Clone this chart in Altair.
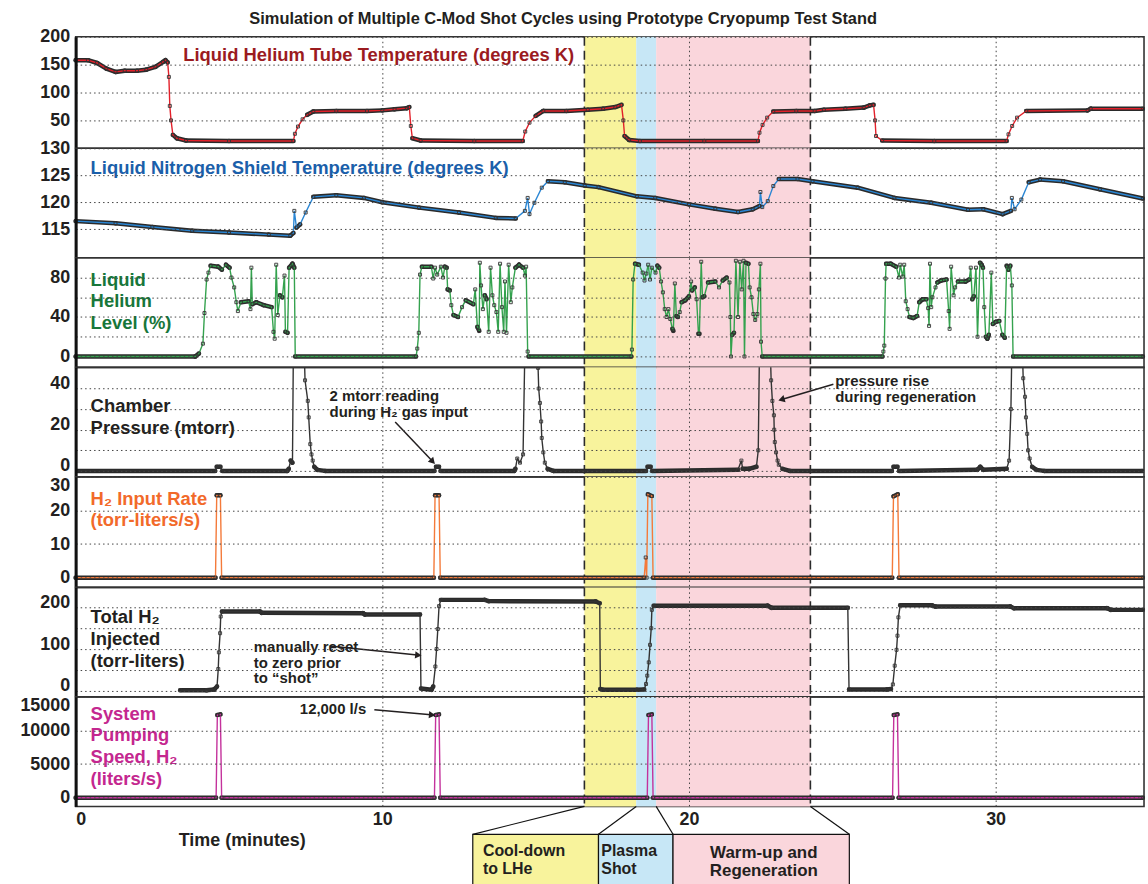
import math
import altair as alt
import pandas as pd

FONT = "Liberation Sans"
INK = "#231f20"
X_MAX = 34.84
W = 1073

# ---------------- data (time in minutes, value) ----------------
he_temp = [(0, 158), (0.4, 158), (0.7, 153), (1.0, 143), (1.3, 137), (1.6, 139), (2.0, 139), (2.3, 141),
           (2.6, 146), (2.85, 155), (2.93, 158), (3.0, 154), (3.04, 128), (3.07, 76), (3.11, 50), (3.17, 24),
           (3.3, 18), (3.6, 14), (5.0, 13), (7.1, 13), (7.15, 26), (7.25, 39), (7.4, 52), (7.55, 60), (7.75, 66),
           (8.5, 67), (9.5, 67), (10.0, 68), (10.4, 70), (10.8, 72), (10.88, 74), (10.93, 40), (10.98, 18),
           (11.25, 14), (13.0, 13), (14.58, 13), (14.66, 30), (14.8, 46), (15.0, 58), (15.25, 67), (16.0, 67),
           (16.7, 69), (17.2, 71), (17.6, 74), (17.8, 78), (17.86, 50), (17.9, 22), (18.05, 15), (18.4, 13),
           (20.5, 13), (22.25, 13), (22.3, 28), (22.4, 42), (22.55, 55), (22.75, 66), (23.5, 67), (24.1, 67),
           (24.4, 69), (25.1, 71), (25.7, 73), (25.9, 77), (26.02, 78), (26.07, 50), (26.1, 22), (26.3, 14),
           (28.0, 13), (30.36, 13), (30.42, 25), (30.54, 40), (30.7, 55), (31.0, 67), (33.0, 68), (33.1, 71),
           (34.8, 71)]

ln2_temp = [(0, 116.5), (1.3, 116.1), (2.5, 115.4), (3.8, 114.7), (5.0, 114.4), (6.3, 114.0), (7.0, 113.8),
            (7.1, 114.3), (7.13, 118.4), (7.2, 115.3), (7.32, 115.9), (7.5, 118.1), (7.75, 121.0), (8.5, 121.3),
            (9.4, 120.8), (10.0, 120.0), (11.2, 119.0), (12.5, 118.1), (13.7, 117.1), (14.35, 117.0),
            (14.65, 118.4), (14.74, 120.8), (14.8, 117.8), (14.96, 119.9), (15.2, 122.7), (15.4, 123.9),
            (15.95, 123.7), (16.6, 123.1), (17.05, 122.8), (18.3, 121.1), (18.9, 120.8), (20.0, 119.6),
            (20.86, 118.8), (21.6, 118.2), (22.08, 118.7), (22.3, 119.3), (22.33, 121.9), (22.39, 119.1),
            (22.57, 120.2), (22.75, 123.0), (22.93, 124.3), (23.54, 124.3), (24.03, 123.9), (25.5, 122.7),
            (26.7, 120.8), (27.9, 119.9), (29.1, 118.6), (29.6, 118.7), (30.23, 117.8), (30.5, 118.4),
            (30.53, 120.8), (30.62, 118.7), (30.84, 120.5), (31.08, 123.7), (31.45, 124.2), (32.2, 123.9),
            (33.4, 122.4), (34.8, 120.7)]

he_level = [(0, 0), (3.9, 0), (4.02, 3), (4.15, 13), (4.2, 44), (4.27, 78), (4.33, 85), (4.4, 92), (4.65, 91),
            (4.77, 88), (4.9, 93), (5.02, 90), (5.08, 80), (5.17, 70), (5.24, 55), (5.29, 46), (5.39, 55),
            (5.64, 56), (5.7, 48), (5.73, 90), (5.76, 53), (5.89, 55), (6.13, 52), (6.39, 50), (6.45, 25),
            (6.49, 18), (6.54, 93), (6.59, 42), (6.66, 62), (6.74, 60), (6.81, 82), (6.84, 25), (6.91, 24),
            (6.96, 90), (7.07, 94), (7.13, 90), (7.16, 0), (11.1, 0), (11.14, 8), (11.19, 24), (11.23, 83),
            (11.29, 91), (11.6, 91), (11.66, 79), (11.72, 90), (11.79, 83), (11.91, 91), (11.98, 80),
            (12.04, 91), (12.1, 90), (12.13, 68), (12.2, 67), (12.25, 52), (12.32, 42), (12.47, 40), (12.6, 50),
            (12.72, 57), (12.97, 53), (13.03, 68), (13.1, 30), (13.16, 26), (13.18, 95), (13.22, 72),
            (13.28, 48), (13.34, 62), (13.4, 58), (13.47, 25), (13.53, 90), (13.59, 62), (13.65, 52),
            (13.72, 45), (13.78, 25), (13.84, 94), (13.9, 50), (13.96, 25), (14.0, 76), (14.05, 24),
            (14.12, 93), (14.19, 55), (14.24, 70), (14.34, 90), (14.46, 93), (14.59, 90), (14.65, 82),
            (14.69, 91), (14.74, 5), (14.77, 0), (18.12, 0), (18.14, 7), (18.18, 78), (18.24, 94), (18.37, 93),
            (18.49, 85), (18.55, 77), (18.61, 84), (18.67, 93), (18.73, 78), (18.79, 90), (18.91, 85),
            (18.97, 92), (19.03, 90), (19.09, 76), (19.15, 65), (19.21, 48), (19.27, 40), (19.33, 48),
            (19.39, 38), (19.46, 28), (19.49, 26), (19.54, 74), (19.59, 41), (19.64, 40), (19.7, 45),
            (19.76, 55), (19.88, 57), (20.0, 61), (20.07, 76), (20.1, 67), (20.19, 70), (20.25, 58),
            (20.31, 23), (20.34, 23), (20.4, 96), (20.44, 60), (20.5, 61), (20.62, 75), (20.86, 76),
            (20.98, 70), (21.1, 77), (21.23, 80), (21.32, 75), (21.35, 40), (21.37, 0), (21.41, 22),
            (21.47, 24), (21.53, 97), (21.6, 40), (21.66, 96), (21.72, 68), (21.78, 97), (21.81, 0),
            (21.86, 95), (21.94, 94), (21.98, 70), (22.04, 60), (22.1, 43), (22.16, 37), (22.23, 43),
            (22.28, 68), (22.33, 94), (22.35, 15), (22.39, 0), (26.31, 0), (26.34, 5), (26.37, 11),
            (26.41, 79), (26.43, 94), (26.58, 94), (26.76, 91), (26.85, 80), (26.89, 93), (26.97, 81),
            (27.02, 93), (27.07, 56), (27.13, 48), (27.19, 40), (27.32, 39), (27.44, 41), (27.51, 55),
            (27.62, 58), (27.74, 58), (27.8, 49), (27.83, 31), (27.86, 94), (27.9, 50), (27.94, 60),
            (28.04, 70), (28.1, 75), (28.22, 77), (28.4, 78), (28.47, 46), (28.5, 28), (28.55, 91),
            (28.63, 62), (28.68, 70), (28.77, 76), (29.02, 76), (29.14, 78), (29.19, 90), (29.24, 58),
            (29.29, 61), (29.36, 90), (29.41, 20), (29.49, 95), (29.54, 93), (29.59, 90), (29.63, 50),
            (29.68, 20), (29.73, 18), (29.78, 22), (29.86, 85), (29.91, 33), (30.0, 35), (30.12, 36),
            (30.22, 22), (30.3, 19), (30.36, 92), (30.42, 88), (30.48, 92), (30.53, 72), (30.57, 0), (34.8, 0)]

pressure = [(0, 0), (4.55, 0), (4.6, 2), (4.72, 2), (4.78, 0), (6.9, 0), (6.95, 1), (7.01, 5), (7.07, 4),
            (7.1, 60), (7.45, 60), (7.48, 44), (7.57, 34), (7.6, 26), (7.65, 13), (7.69, 8), (7.73, 5),
            (7.78, 2), (7.88, 0.5), (8.13, 0), (11.7, 0), (11.75, 2), (11.85, 2), (11.9, 0), (14.3, 0),
            (14.34, 1), (14.4, 6), (14.49, 4), (14.59, 8), (14.65, 60), (15.05, 60), (15.08, 50), (15.1, 40),
            (15.14, 33), (15.18, 24), (15.2, 16), (15.25, 9), (15.3, 4), (15.39, 1), (15.58, 0), (18.6, 0),
            (18.65, 2), (18.75, 2), (18.8, 0), (21.6, 0.5), (21.71, 5), (21.75, 1), (21.96, 1), (22.2, 2),
            (22.26, 10), (22.3, 60), (22.65, 60), (22.68, 44), (22.72, 34), (22.77, 27), (22.78, 20),
            (22.8, 14), (22.84, 9), (22.89, 5), (22.93, 3), (23.05, 1), (23.29, 0), (26.62, 0), (26.67, 2),
            (26.8, 2), (26.85, 0), (29.4, 0.5), (29.5, 2), (29.6, 0.5), (30.36, 1), (30.44, 5), (30.5, 30),
            (30.53, 60), (30.87, 60), (30.9, 45), (30.96, 36), (30.99, 26), (31.03, 18), (31.06, 10),
            (31.11, 6), (31.19, 2), (31.33, 0.5), (31.58, 0), (34.8, 0)]

h2_rate = [(0, 0), (4.56, 0), (4.6, 24.5), (4.72, 24.5), (4.76, 0), (11.68, 0), (11.72, 24.5), (11.85, 24.5),
           (11.89, 0), (18.54, 0), (18.59, 6), (18.62, 0), (18.66, 24.8), (18.79, 24.3), (18.83, 0),
           (26.63, 0), (26.67, 24.2), (26.81, 24.8), (26.85, 0), (34.8, 0)]

h2_total = [(3.41, 1), (4.27, 1), (4.52, 3), (4.61, 10), (4.65, 52), (4.67, 92), (4.71, 138), (4.73, 178),
            (4.77, 190), (6.01, 190), (6.07, 187), (9.37, 186), (9.43, 183), (11.23, 183), (11.26, 5),
            (11.6, 2), (11.66, 10), (11.73, 58), (11.77, 100), (11.81, 148), (11.85, 203), (11.91, 218),
            (13.34, 218), (13.47, 215), (16.96, 214), (17.09, 210), (17.11, 4), (17.2, 2), (18.3, 2),
            (18.54, 3), (18.6, 16), (18.64, 36), (18.69, 68), (18.73, 110), (18.77, 150), (18.79, 194),
            (18.85, 204), (22.57, 204), (22.69, 199), (25.18, 199), (25.22, 3), (26.46, 3), (26.59, 4),
            (26.65, 15), (26.71, 60), (26.77, 98), (26.8, 132), (26.83, 176), (26.89, 205), (27.92, 205),
            (28.04, 202), (30.48, 202), (30.6, 198), (33.64, 198), (33.76, 194), (34.8, 194)]

pump_speed = [(0, 0), (4.58, 0), (4.62, 12300), (4.72, 12400), (4.76, 0), (11.7, 0), (11.74, 12300),
              (11.85, 12400), (11.89, 0), (18.64, 0), (18.68, 12300), (18.79, 12400), (18.83, 0), (26.64, 0),
              (26.68, 12300), (26.8, 12400), (26.84, 0), (34.8, 0)]

# shot-cycle phases (minutes)
phase_start = [16.59, 18.28, 18.93]
phase_end = [18.28, 18.93, 23.96]
phase_fill = ["#f8f39c", "#c7e7f6", "#fad6dc"]
phase_text = [["Cool-down", "to LHe"], ["Plasma", "Shot"], ["Warm-up and", "Regeneration"]]
dashed_at = [16.59, 23.96]
# callout boxes under the time axis (minutes / pumping-speed units of the bottom panel)
box_left = [12.95, 17.05, 19.48]
box_right = [17.05, 19.48, 25.23]
box_top, box_bottom = -5450, -13000
box_text_t = [13.28, 17.14, 22.44]
box_text_v = [-8650, -8650, -8950]
link_from = [16.59, 18.28, 18.93, 23.96]
link_to = [12.95, 17.05, 19.48, 25.23]

x_scale = alt.Scale(domain=[0, X_MAX], nice=False, zero=False)


def x_axis(bottom):
    if bottom:
        return alt.Axis(values=[0, 10, 20, 30], grid=True, gridColor="#444", gridDash=[1.5, 3], ticks=False,
                        domain=False, labelFont=FONT, labelFontSize=18, labelFontWeight="bold", labelColor=INK,
                        labelPadding=4, title="Time (minutes)", titleFont=FONT, titleFontSize=18,
                        titleFontWeight="bold", titleColor=INK, titleAnchor="start", titleAlign="left",
                        titleX=103, titleY=39, titleBaseline="alphabetic", zindex=1)
    return alt.Axis(values=[10, 20, 30], grid=True, gridColor="#444", gridDash=[1.5, 3], labels=False,
                    ticks=False, domain=False, title=None, zindex=1)


def y_axis(values, shown, flush=False, flush_off=0, offset=0):
    expr = "indexof([%s], datum.value) >= 0 ? datum.label : ''" % ",".join(str(v) for v in shown)
    return alt.Axis(values=values, labelExpr=expr, format="d", title=None, grid=True, gridColor="#444",
                    gridDash=[1.5, 3], ticks=False, domain=True, domainColor="#111", domainWidth=3,
                    labelFont=FONT, labelFontSize=18, labelFontWeight="bold", labelColor=INK, labelPadding=6,
                    minExtent=70, maxExtent=70, labelFlush=flush, labelFlushOffset=flush_off,
                    labelOffset=offset, zindex=1)


def panel(series, color, domain, height, yvals, shown, label, label_color, label_x, label_y,
          line_h=21.5, clip=False, bottom=False, flush=False, flush_off=0, lab_off=0,
          annotations=(), arrows=(), extra=()):
    xa = x_axis(bottom)
    ys = alt.Scale(domain=domain, nice=False, zero=False)
    ya = y_axis(yvals, shown, flush, flush_off, lab_off)
    df = pd.DataFrame(series, columns=["t", "v"])
    span = domain[1] - domain[0]
    segs = []
    for (t0, v0), (t1, v1) in zip(series[:-1], series[1:]):
        dxp = (t1 - t0) / X_MAX * W
        dyp = abs(v1 - v0) / span * height
        if dyp <= 4 or dyp <= 0.7 * dxp:
            segs.append({"t0": t0, "v0": v0, "t1": t1, "v1": v1})
    seg_df = pd.DataFrame(segs)
    ph = pd.DataFrame({"start": phase_start, "end": phase_end, "fill": phase_fill})
    layers = [
        alt.Chart(ph).mark_rect().encode(
            x=alt.X("start:Q", scale=x_scale, axis=xa), x2="end:Q", color=alt.Color("fill:N", scale=None)),
        alt.Chart(pd.DataFrame({"t": dashed_at})).mark_rule(
            strokeDash=[9, 5], color="#2b2b2b", strokeWidth=1.6).encode(
            x=alt.X("t:Q", scale=x_scale, axis=xa)),
        alt.Chart(seg_df).mark_rule(color="#2a2a2a", strokeWidth=4.5, strokeCap="round", clip=clip).encode(
            x=alt.X("t0:Q", scale=x_scale, axis=xa), x2="t1:Q",
            y=alt.Y("v0:Q", scale=ys, axis=ya), y2="v1:Q"),
        alt.Chart(df).mark_line(color=color, strokeWidth=1.4, clip=clip).encode(
            x=alt.X("t:Q", scale=x_scale, axis=xa), y=alt.Y("v:Q", scale=ys, axis=ya)),
        alt.Chart(df).mark_point(shape="square", size=9, filled=False, color="#333", strokeWidth=1,
                                 opacity=0.9, clip=clip).encode(
            x=alt.X("t:Q", scale=x_scale, axis=xa), y=alt.Y("v:Q", scale=ys, axis=ya)),
        alt.Chart(pd.DataFrame({"k": [0]})).mark_text(
            text=label, align="left", baseline="alphabetic", font=FONT, fontSize=18.5, fontWeight="bold",
            color=label_color, lineHeight=line_h).encode(x=alt.value(label_x), y=alt.value(label_y)),
    ]
    for (t, v, lines) in annotations:
        layers.append(alt.Chart(pd.DataFrame({"t": [t], "v": [v]})).mark_text(
            text=lines, align="left", baseline="alphabetic", font=FONT, fontSize=15, fontWeight="bold",
            color=INK, lineHeight=15.5).encode(
            x=alt.X("t:Q", scale=x_scale, axis=xa), y=alt.Y("v:Q", scale=ys, axis=ya)))
    for (t0, v0, t1, v1) in arrows:
        dx = (t1 - t0) / X_MAX * W
        dy = -(v1 - v0) / span * height
        ang = math.degrees(math.atan2(dx, -dy)) % 360
        layers.append(alt.Chart(pd.DataFrame({"t0": [t0], "v0": [v0], "t1": [t1], "v1": [v1]})).mark_rule(
            color=INK, strokeWidth=1.5).encode(
            x=alt.X("t0:Q", scale=x_scale, axis=xa), x2="t1:Q",
            y=alt.Y("v0:Q", scale=ys, axis=ya), y2="v1:Q"))
        layers.append(alt.Chart(pd.DataFrame({"t": [t1], "v": [v1], "a": [ang]})).mark_point(
            shape="triangle", filled=True, size=55, color=INK, opacity=1).encode(
            x=alt.X("t:Q", scale=x_scale, axis=xa), y=alt.Y("v:Q", scale=ys, axis=ya),
            angle=alt.Angle("a:Q", scale=None)))
    for mk in extra:
        layers.append(mk(xa, ys, ya))
    return alt.layer(*layers).properties(width=W, height=height)


def callouts(xa, ys, ya):
    boxes = pd.DataFrame({"l": box_left, "r": box_right, "top": [box_top] * 3, "bot": [box_bottom] * 3,
                          "fill": phase_fill})
    links = pd.DataFrame({"t0": link_from, "t1": link_to, "v0": [-1300] * 4, "v1": [box_top] * 4})
    texts = pd.DataFrame({"t": box_text_t, "v": box_text_v, "al": ["left", "left", "center"]})
    rect = alt.Chart(boxes).mark_rect(stroke="#111", strokeWidth=1.2).encode(
        x=alt.X("l:Q", scale=x_scale, axis=xa), x2="r:Q", y=alt.Y("top:Q", scale=ys, axis=ya), y2="bot:Q",
        color=alt.Color("fill:N", scale=None))
    link = alt.Chart(links).mark_rule(color="#111", strokeWidth=1.2).encode(
        x=alt.X("t0:Q", scale=x_scale, axis=xa), x2="t1:Q", y=alt.Y("v0:Q", scale=ys, axis=ya), y2="v1:Q")
    tl = []
    for i in range(3):
        tl.append(alt.Chart(texts.iloc[[i]]).mark_text(
            text=phase_text[i], align=texts["al"][i], baseline="alphabetic", font=FONT,
            fontSize=16 if i < 2 else 17, fontWeight="bold", color=INK, lineHeight=18).encode(
            x=alt.X("t:Q", scale=x_scale, axis=xa), y=alt.Y("v:Q", scale=ys, axis=ya)))
    return alt.layer(link, rect, *tl)


p1 = panel(he_temp, "#e3202a", [0, 200], 112, [50, 100, 150, 200], [50, 100, 150, 200],
           "Liquid Helium Tube Temperature (degrees K)", "#9b1b1f", 108, 24)
p2 = panel(ln2_temp, "#2a86d4", [109.7, 130], 110, [115, 120, 125, 130], [115, 120, 125, 130],
           "Liquid Nitrogen Shield Temperature (degrees K)", "#1b5faa", 15, 26)
p3 = panel(he_level, "#34a24e", [-11, 100], 110, [0, 20, 40, 60, 80], [0, 40, 80],
           ["Liquid", "Helium", "Level (%)"], "#17773a", 15, 28, line_h=21.5)
p4 = panel(pressure, "#333333", [-2.9, 50.3], 110, [0, 10, 20, 30, 40], [0, 20, 40],
           ["Chamber", "Pressure (mtorr)"], INK, 15, 45, line_h=22, clip=True, lab_off=-5,
           annotations=[(8.28, 33.9, ["2 mtorr reading", "during H\u2082 gas input"]),
                        (24.77, 41.1, ["pressure rise", "during regeneration"])],
           arrows=[(10.42, 23.7, 11.62, 4.9), (24.71, 42.1, 23.05, 34.8)])
p5 = panel(h2_rate, "#f47a3a", [-2.9, 30], 111, [0, 10, 20, 30], [0, 10, 20, 30],
           ["H\u2082 Input Rate", "(torr-liters/s)"], "#f26a2a", 15, 28, line_h=21,
           flush=True, flush_off=0)
p6 = panel(h2_total, "#333333", [-15, 248], 110, [0, 50, 100, 150, 200], [0, 100, 200],
           ["Total H\u2082", "Injected", "(torr-liters)"], INK, 15, 36, line_h=22, lab_off=-5,
           annotations=[(5.81, 92.6, ["manually reset", "to zero prior", "to \u201cshot\u201d"])],
           arrows=[(8.28, 107, 11.14, 85.4)])
p7 = panel(pump_speed, "#c4329c", [-1300, 15000], 110, [0, 5000, 10000, 15000], [0, 5000, 10000, 15000],
           ["System", "Pumping", "Speed, H\u2082", "(liters/s)"], "#c4278f", 15, 23, line_h=21.7,
           bottom=True, flush=True, flush_off=0,
           annotations=[(7.31, 12481, ["12,000 l/s"])],
           arrows=[(9.74, 13074, 11.59, 12333)], extra=[callouts])

chart = alt.vconcat(p1, p2, p3, p4, p5, p6, p7, spacing=0, bounds="flush").properties(
    title=alt.TitleParams("Simulation of Multiple C-Mod Shot Cycles using Prototype Cryopump Test Stand",
                          font=FONT, fontSize=16.5, fontWeight="bold", color=INK, anchor="middle", dx=-13,
                          offset=0),
    padding={"left": 5, "top": 8, "right": 0, "bottom": 0},
).configure_view(stroke="#333", strokeWidth=1.6).resolve_scale(y="independent")

chart.save("out.html", embed_options={"renderer": "svg", "actions": False})
